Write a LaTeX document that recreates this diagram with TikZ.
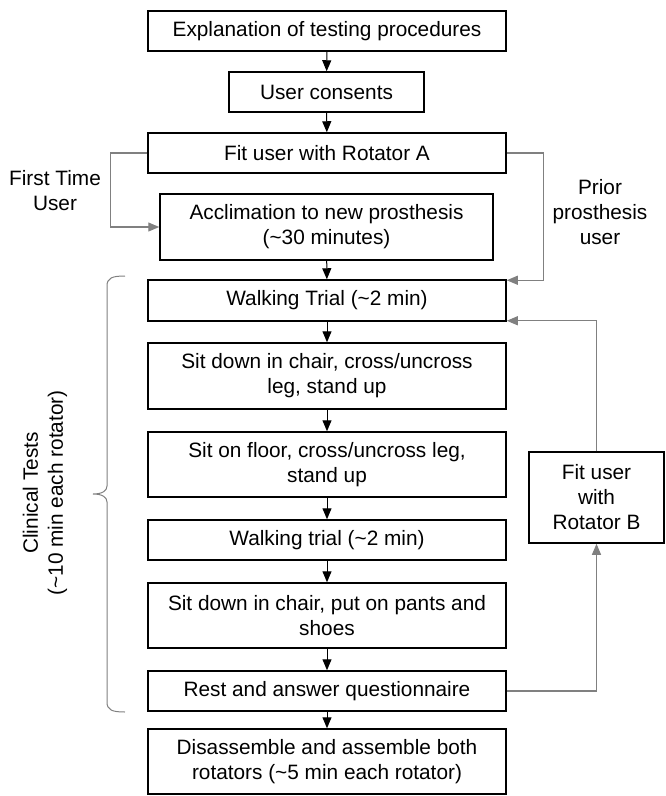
\documentclass[tikz,border=0pt]{standalone}
\usepackage{fontspec}
\setmainfont{Liberation Sans}
\usetikzlibrary{arrows.meta}
\definecolor{linegray}{RGB}{128,128,128}
\tikzset{
  box/.style={draw=black, line width=1.5pt, fill=white, inner sep=0pt, align=center,
    minimum width=358pt, font=\fontsize{20.8}{25}\selectfont},
  flow/.style={draw=black, line width=1pt, -{Triangle[length=11pt,width=9pt]}},
  side/.style={draw=linegray, line width=1.2pt, -{Triangle[length=11pt,width=9pt]}},
  lbl/.style={inner sep=0pt, align=center, font=\fontsize{20.8}{25}\selectfont}
}
\begin{document}
\begin{tikzpicture}[x=1pt,y=-1pt]
\useasboundingbox (0,0) rectangle (665,796);
\node[box, minimum height=40pt] (expl) at (327,31) {Explanation of testing procedures};
\node[box, minimum width=195pt, minimum height=40pt] (consent) at (326.5,92) {User consents};
\node[box, minimum height=40pt] (fitA) at (327,153) {Fit user with Rotator A};
\node[box, minimum width=333pt, minimum height=66pt] (accl) at (326.5,227) {Acclimation to new prosthesis\\(\textasciitilde30 minutes)};
\node[box, minimum height=41pt] (walk1) at (327,300.5) {Walking Trial (\textasciitilde2 min)};
\node[box, minimum height=66pt] (sitc) at (327,376) {Sit down in chair, cross/uncross\\leg, stand up};
\node[box, minimum height=65pt] (sitf) at (327,464.5) {Sit on floor, cross/uncross leg,\\stand up};
\node[box, minimum height=40pt] (walk2) at (327,540) {Walking trial (\textasciitilde2 min)};
\node[box, minimum height=65pt] (sitp) at (327,615.5) {Sit down in chair, put on pants and\\shoes};
\node[box, minimum height=40pt] (rest) at (327,691) {Rest and answer questionnaire};
\node[box, minimum height=65pt] (dis) at (327,761.5) {Disassemble and assemble both\\rotators (\textasciitilde5 min each rotator)};
\node[box, minimum width=135pt, minimum height=91pt] (fitB) at (596.5,497.5) {Fit user\\with\\Rotator B};

\node[lbl] (first) at (55,190.5) {First Time\\User};
\node[lbl] (prior) at (600,212.5) {Prior\\prosthesis\\user};
\node[lbl, rotate=90] (clin) at (45,493) {Clinical Tests\\(\textasciitilde10 min each rotator)};

\draw[flow] (expl) -- (consent);
\draw[flow] (consent) -- (fitA);
\draw[flow] (accl) -- (walk1);
\draw[flow] (walk1) -- (sitc);
\draw[flow] (sitc) -- (sitf);
\draw[flow] (sitf) -- (walk2);
\draw[flow] (walk2) -- (sitp);
\draw[flow] (sitp) -- (rest);
\draw[flow] (rest) -- (dis);

\draw[side] (fitA.west) -- ++(-37,0) |- (accl.west);
\draw[side] (fitA.east) -- ++(37,0) |- ([yshift=-1pt]walk1.north east);
\draw[side] (fitB.north) |- ([yshift=1pt]walk1.south east);
\draw[side] (rest.east) -| (fitB.south);

\draw[linegray, line width=1pt] (125,276) .. controls (112,276) and (107,278) .. (107,286)
  -- (107,486) .. controls (107,491) and (102,494) .. (93,494)
  .. controls (102,494) and (107,497) .. (107,502)
  -- (107,702) .. controls (107,710) and (112,712) .. (125,712);
\end{tikzpicture}
\end{document}
